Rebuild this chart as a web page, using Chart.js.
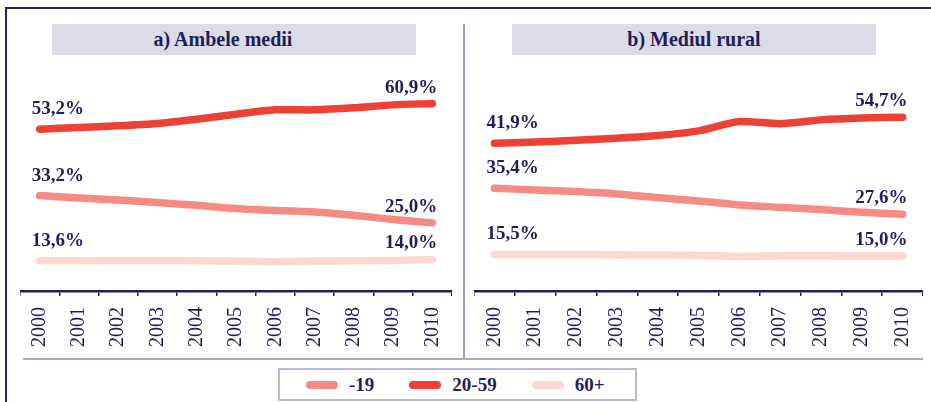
<!DOCTYPE html>
<html>
<head>
<meta charset="utf-8">
<script src="https://cdn.jsdelivr.net/npm/chart.js@4.4.0/dist/chart.umd.min.js"></script>
<style>
  body { margin: 0; width: 931px; height: 402px; background: #fff; position: relative; overflow: hidden;
         font-family: "Liberation Serif", "Times New Roman", serif; color: #1f1f5c; }
  .line { position: absolute; }
  .panel-title { position: absolute; top: 24px; width: 364px; height: 31px; line-height: 31px;
                 background: #dcdce6; text-align: center; font-weight: bold; font-size: 20px; }
  canvas { position: absolute; }
  #legend { position: absolute; left: 278px; top: 368px; width: 359px; height: 33px; box-sizing: border-box;
            border: 2px solid #b9b9d6; display: flex; align-items: center; padding-left: 26px; }
  .item { display: flex; align-items: center; flex-shrink: 0; white-space: nowrap; margin-right: 35px;
          font-weight: bold; font-size: 19px; }
  .swatch { width: 32px; height: 8px; border-radius: 4px; margin-right: 11px; }
</style>
</head>
<body>
<div class="line" style="left:5px;top:7px;width:926px;height:2px;background:#1f1f5c"></div>
<div class="line" style="left:5px;top:7px;width:2px;height:395px;background:#1f1f5c"></div>

<div class="panel-title" style="left:52px;padding-right:22px;box-sizing:border-box">a) Ambele medii</div>
<div class="panel-title" style="left:512px">b) Mediul rural</div>

<canvas id="chartA" width="432" height="320" style="left:20px;top:40px"></canvas>
<canvas id="chartB" width="449" height="320" style="left:474px;top:40px"></canvas>

<div class="line" style="left:463px;top:24px;width:2px;height:334px;background:#9d9dc2"></div>
<div class="line" style="left:23px;top:358px;width:900px;height:2px;background:#a9a9cb"></div>

<div id="legend"></div>

<script>
const years = ["2000", "2001", "2002", "2003", "2004", "2005", "2006", "2007", "2008", "2009", "2010"];
const groups = ["-19", "20-59", "60+"];

// a) Ambele medii
const totalUnder20 = [33.2, 32.5, 31.9, 31.1, 30.3, 29.3, 28.7, 28.3, 27.3, 26.0, 25.0];
const total20to59 = [53.2, 53.7, 54.2, 54.9, 56.2, 57.7, 59.0, 59.0, 59.6, 60.5, 60.9];
const total60plus = [13.6, 13.6, 13.7, 13.7, 13.6, 13.5, 13.3, 13.5, 13.6, 13.7, 14.0];

// b) Mediul rural
const ruralUnder20 = [35.4, 34.9, 34.4, 33.7, 32.6, 31.6, 30.4, 29.7, 29.0, 28.2, 27.6];
const rural20to59 = [41.9, 42.5, 43.4, 44.4, 45.7, 48.0, 52.6, 51.5, 53.4, 54.3, 54.7];
const rural60plus = [15.5, 15.5, 15.5, 15.4, 15.3, 15.2, 14.9, 15.1, 15.1, 15.0, 15.0];

const navy = "#1f1f5c";
const colors = ["#f58b83", "#ee4136", "#fcd7d4"];
const serif = "'Liberation Serif', 'Times New Roman', serif";

function fmt(v) {
  return v.toFixed(1).replace(".", ",") + "%";
}

// first / last value written above the line ends
const endLabels = {
  id: "endLabels",
  afterDatasetsDraw(chart) {
    const ctx = chart.ctx;
    ctx.save();
    ctx.font = "bold 19px " + serif;
    ctx.fillStyle = navy;
    chart.data.datasets.forEach((ds, i) => {
      const pts = chart.getDatasetMeta(i).data;
      const first = pts[0];
      const last = pts[pts.length - 1];
      ctx.textAlign = "left";
      ctx.fillText(fmt(ds.data[0]), first.x - 8, first.y - 15);
      ctx.textAlign = "right";
      ctx.fillText(fmt(ds.data[ds.data.length - 1]), last.x + 5, last.y - 11);
    });
    ctx.restore();
  }
};

function makePanel(id, series, midAxis) {
  const datasets = series.map((data, i) => ({
    label: groups[i],
    data: data,
    yAxisID: i === 1 ? midAxis : "y",
    borderColor: colors[i],
    borderWidth: 7.5,
    borderCapStyle: "round",
    borderJoinStyle: "round",
    tension: 0.25,
    pointRadius: 0,
    fill: false
  }));

  return new Chart(document.getElementById(id), {
    type: "line",
    data: { labels: years, datasets: datasets },
    options: {
      responsive: false,
      animation: false,
      layout: { padding: { top: 20, left: 0, right: 0, bottom: 0 } },
      plugins: { legend: { display: false }, tooltip: { enabled: false } },
      scales: {
        x: {
          offset: true,
          grid: { display: true, offset: true, drawOnChartArea: false, color: navy, lineWidth: 1.5, tickLength: 5 },
          border: { display: true, color: navy, width: 2.5 },
          ticks: {
            minRotation: 90, maxRotation: 90, padding: 11, color: navy,
            font: { family: serif, size: 20 }
          },
          afterFit: (axis) => {
            // keep the full width for the plot, labels fit inside the offsets
            axis.height = 69;
            axis.paddingLeft = 0;
            axis.paddingRight = 0;
          }
        },
        y: { display: false, min: 4.5, max: 74 },
        y2: { display: false, min: -30.9, max: 82.9 }
      }
    },
    plugins: [endLabels]
  });
}

makePanel("chartA", [totalUnder20, total20to59, total60plus], "y");
makePanel("chartB", [ruralUnder20, rural20to59, rural60plus], "y2");

// legend under both panels
const legend = document.getElementById("legend");
groups.forEach((name, i) => {
  const item = document.createElement("div");
  item.className = "item";
  item.innerHTML = `<span class="swatch" style="background:${colors[i]}"></span>${name}`;
  legend.appendChild(item);
});
</script>
</body>
</html>
